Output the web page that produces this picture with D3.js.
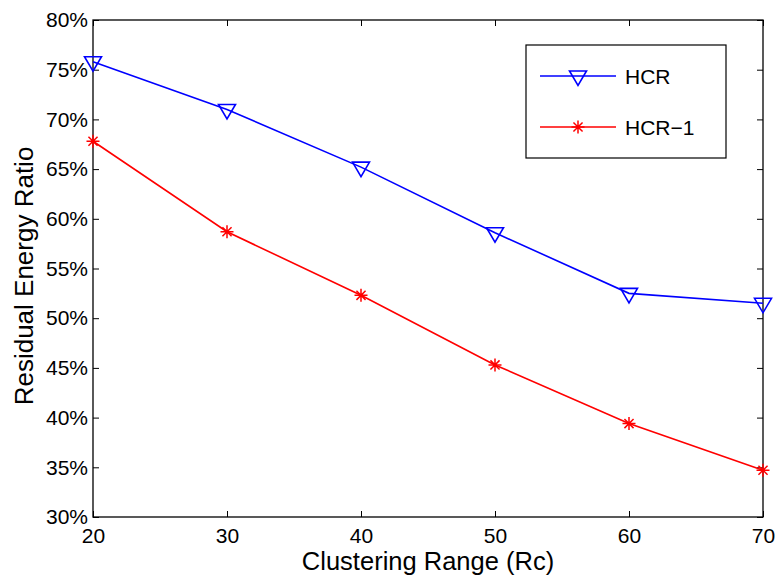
<!DOCTYPE html>
<html><head><meta charset="utf-8">
<script src="https://cdn.jsdelivr.net/npm/d3@7"></script>
<style>body{margin:0;background:#fff}text{font-family:"Liberation Sans",Arial,sans-serif}</style>
</head><body>
<svg id="c" width="775" height="575"></svg>
<script>
const xValues = [20, 30, 40, 50, 60, 70];
const hcr = [75.8, 71.0, 65.2, 58.6, 52.5, 51.5];
const hcr1 = [67.8, 58.7, 52.3, 45.3, 39.4, 34.7];
const yTicks = [30, 35, 40, 45, 50, 55, 60, 65, 70, 75, 80];
const xTicks = [20, 30, 40, 50, 60, 70];
const seriesNames = ["HCR", "HCR\u22121"];

const svg = d3.select("#c");
const L = 93, R = 763, T = 20, B = 517;
const x = d3.scaleLinear().domain([20, 70]).range([L, R]);
const y = d3.scaleLinear().domain([30, 80]).range([B, T]);

svg.append("rect").attr("width", 775).attr("height", 575).attr("fill", "#fff");

const tl = 6;
const gx = svg.append("g").attr("transform", `translate(0,${B})`)
  .call(d3.axisBottom(x).tickValues(xTicks).tickSizeInner(-tl).tickSizeOuter(0).tickPadding(11));
const gy = svg.append("g").attr("transform", `translate(${L},0)`)
  .call(d3.axisLeft(y).tickValues(yTicks).tickFormat(d => d + "%").tickSizeInner(-tl).tickSizeOuter(0).tickPadding(5));
const gxt = svg.append("g").attr("transform", `translate(0,${T})`)
  .call(d3.axisTop(x).tickValues(xTicks).tickSizeInner(-tl).tickSizeOuter(0).tickFormat(""));
const gyr = svg.append("g").attr("transform", `translate(${R},0)`)
  .call(d3.axisRight(y).tickValues(yTicks).tickSizeInner(-tl).tickSizeOuter(0).tickFormat(""));
[gx, gy, gxt, gyr].forEach(g => {
  g.select(".domain").remove();
  g.selectAll("line").attr("stroke", "#000").attr("stroke-width", 1);
  g.selectAll("text").attr("fill", "#000").style("font-size", "21px").style("font-family", '"Liberation Sans",Arial,sans-serif');
});
gx.selectAll("text").attr("dy", "0.71em");
svg.append("rect").attr("x", L).attr("y", T).attr("width", R - L).attr("height", B - T)
  .attr("fill", "none").attr("stroke", "#000").attr("stroke-width", 1.3);

const line = d3.line().x((d, i) => x(xValues[i])).y(d => y(d));
svg.append("path").datum(hcr).attr("d", line).attr("fill", "none").attr("stroke", "#0000ff").attr("stroke-width", 1.6);
svg.append("path").datum(hcr1).attr("d", line).attr("fill", "none").attr("stroke", "#ff0000").attr("stroke-width", 1.6);

function tri(g, cx, cy) {
  const w = 8.5;
  g.append("path").attr("d", `M${cx - w},${cy - 5}L${cx + w},${cy - 5}L${cx},${cy + 9.5}Z`)
    .attr("fill", "none").attr("stroke", "#0000ff").attr("stroke-width", 1.6);
}
function star(g, cx, cy) {
  const s = 6.5;
  const p = `M${cx - s},${cy}L${cx + s},${cy}M${cx},${cy - s}L${cx},${cy + s}` +
    `M${cx - s * 0.7},${cy - s * 0.7}L${cx + s * 0.7},${cy + s * 0.7}M${cx - s * 0.7},${cy + s * 0.7}L${cx + s * 0.7},${cy - s * 0.7}`;
  g.append("path").attr("d", p).attr("stroke", "#ff0000").attr("stroke-width", 1.5).attr("fill", "none");
}
const mk = svg.append("g");
hcr.forEach((v, i) => tri(mk, x(xValues[i]), y(v)));
hcr1.forEach((v, i) => star(mk, x(xValues[i]), y(v)));

const lg = svg.append("g");
lg.append("rect").attr("x", 526).attr("y", 45).attr("width", 200).attr("height", 113)
  .attr("fill", "#fff").attr("stroke", "#000").attr("stroke-width", 1.2);
const ly = [76, 127];
lg.append("line").attr("x1", 540).attr("x2", 616).attr("y1", ly[0]).attr("y2", ly[0]).attr("stroke", "#0000ff").attr("stroke-width", 1.6);
tri(lg, 578, ly[0]);
lg.append("line").attr("x1", 540).attr("x2", 616).attr("y1", ly[1]).attr("y2", ly[1]).attr("stroke", "#ff0000").attr("stroke-width", 1.6);
star(lg, 578, ly[1]);
seriesNames.forEach((n, i) => lg.append("text").attr("x", 625).attr("y", ly[i]).attr("dy", "0.36em")
  .style("font-size", "21px").text(n));

svg.append("text").attr("x", 428).attr("y", 570).attr("text-anchor", "middle")
  .style("font-size", "25.5px").text("Clustering Range (Rc)");
svg.append("text").attr("transform", `translate(33,276) rotate(-90)`).attr("text-anchor", "middle")
  .style("font-size", "26px").text("Residual Energy Ratio");
</script>
</body></html>
